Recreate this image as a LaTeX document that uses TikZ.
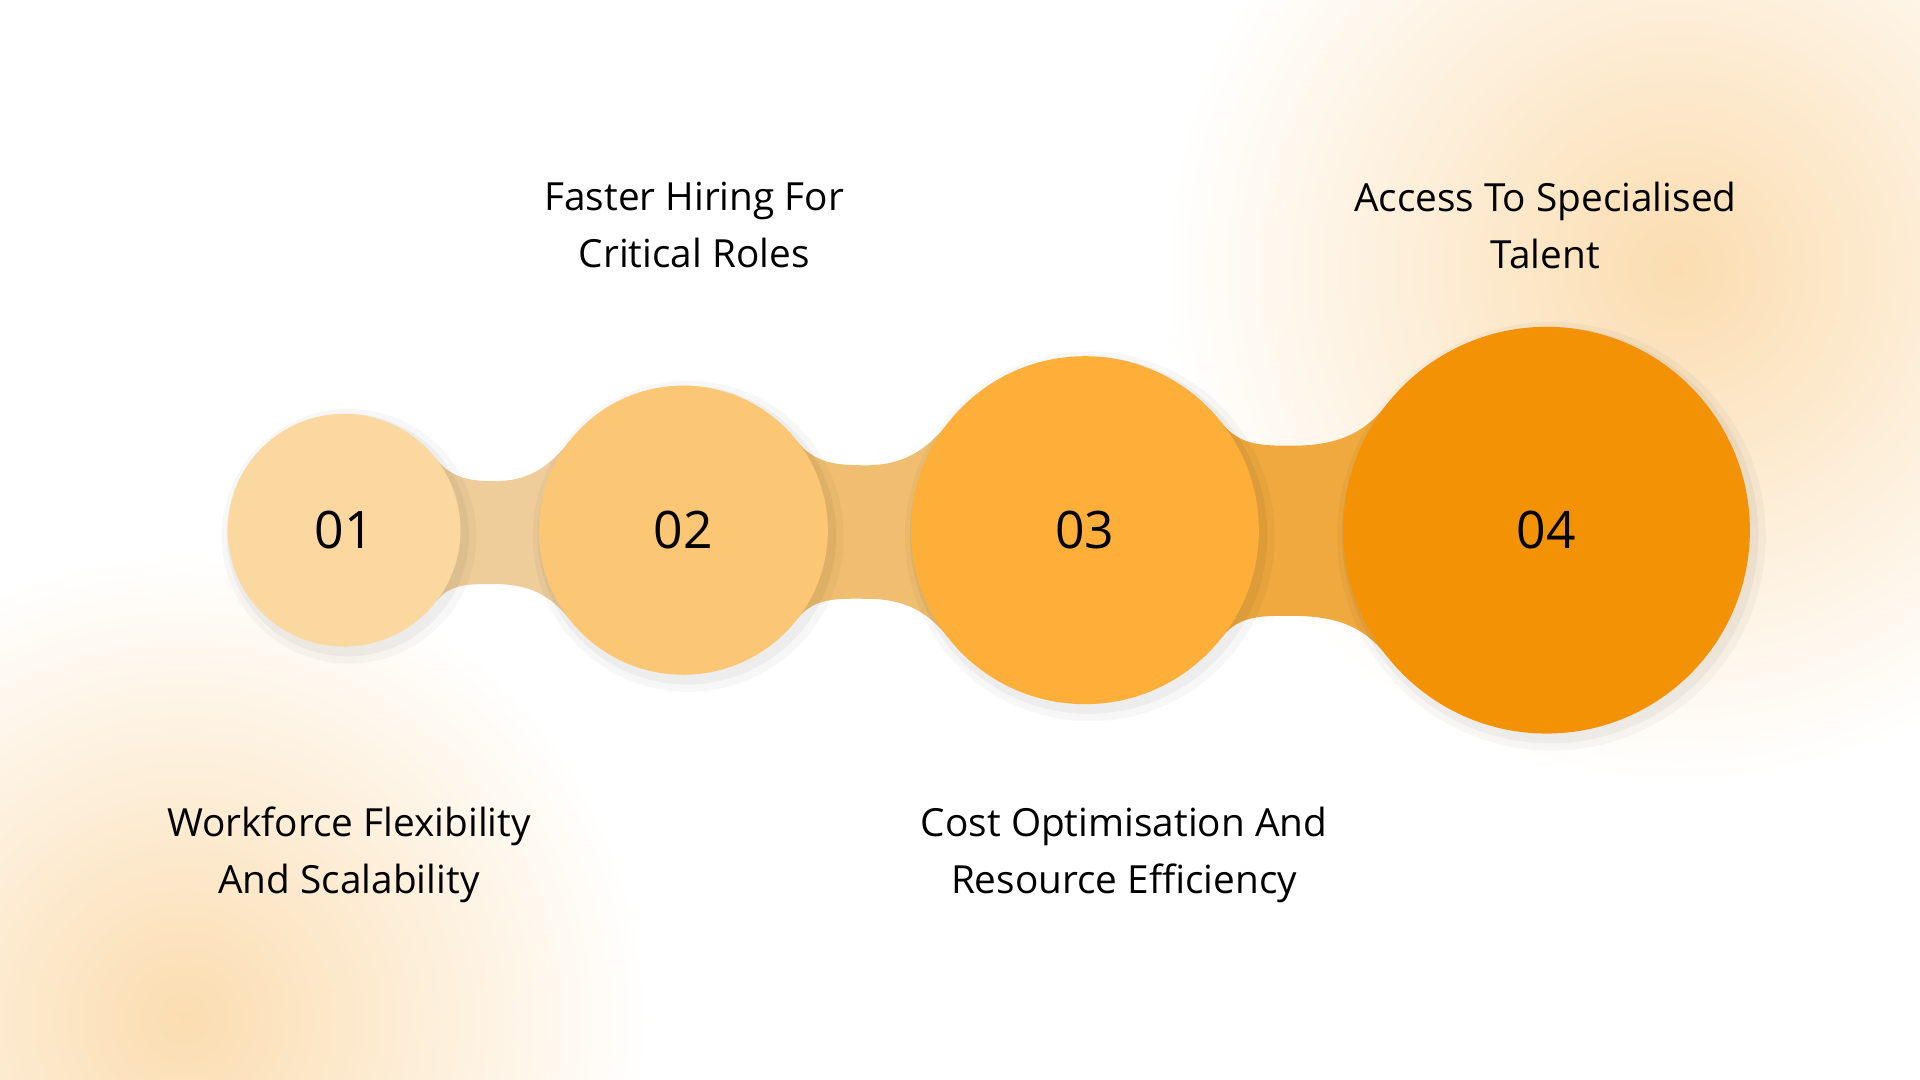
\documentclass[tikz,border=0pt]{standalone}
\usepackage{fontspec}
\setmainfont{Open Sans}
\usetikzlibrary{calc}
\definecolor{cA}{HTML}{FAD89F}
\definecolor{cB}{HTML}{FCC774}
\definecolor{cC}{HTML}{FDAF3A}
\definecolor{cD}{HTML}{F39205}
\definecolor{bA}{HTML}{EFCD9A}
\definecolor{bB}{HTML}{F0BE70}
\definecolor{bC}{HTML}{EFA93E}
\definecolor{glow}{HTML}{FBDDB0}
\tikzset{
  num/.style={font=\fontsize{12}{14}\selectfont, text=black},
  lbl/.style={font=\fontsize{9}{13.3}\selectfont, align=center, text=black},
}
\begin{document}
\begin{tikzpicture}[x=0.01cm,y=0.01cm]
\useasboundingbox (0,0) rectangle (1568,882);
\fill[white] (0,0) rectangle (1568,882);
\begin{scope}
\clip (0,0) rectangle (1568,882);
\shade[inner color=glow, outer color=white] (1370,662) circle (420);
\shade[inner color=glow, outer color=white] (150,50) circle (380);
\end{scope}
% band shapes
\newcommand{\band}[9]{%
  \fill[#9] ($(#1,449)+(38:#2)$) to[out=-52,in=180] (#5,#6) to[out=0,in=-128] ($(#3,449)+(142:#4)$)
   -- ($(#3,449)+(218:#4)$) to[out=128,in=0] (#5,#7) to[out=180,in=52] ($(#1,449)+(322:#2)$) -- cycle;}
\band{281}{95}{558}{118}{404}{489}{405}{}{bA}
\band{558}{118}{886}{142}{707}{502}{393}{}{bB}
\band{886}{142}{1263}{166}{1055}{518}{379}{}{bC}
% shadows
\foreach \x/\r in {281/95,558/118,886/142,1263/166}{
  \fill[black,opacity=0.03] (\x+4,444) circle (\r+9);
  \fill[black,opacity=0.04] (\x+3,445) circle (\r+4);
}
\node[circle,fill=cA,minimum size=1.90cm,inner sep=0] (n1) at (281,449) {};
\node[circle,fill=cB,minimum size=2.36cm,inner sep=0] (n2) at (558,449) {};
\node[circle,fill=cC,minimum size=2.84cm,inner sep=0] (n3) at (886,449) {};
\node[circle,fill=cD,minimum size=3.32cm,inner sep=0] (n4) at (1263,449) {};
\node[num] (t1) at (n1) {01};
\node[num] (t2) at (n2) {02};
\node[num] (t3) at (n3) {03};
\node[num] (t4) at (n4) {04};
\node[lbl] (l2) at (567,698) {Faster Hiring For\\Critical Roles};
\node[lbl] (l4) at (1262,698) {Access To Specialised\\Talent};
\node[lbl] (l1) at (285,184) {Workforce Flexibility\\And Scalability};
\node[lbl] (l3) at (918,184) {Cost Optimisation And\\Resource Efficiency};
\end{tikzpicture}
\end{document}
